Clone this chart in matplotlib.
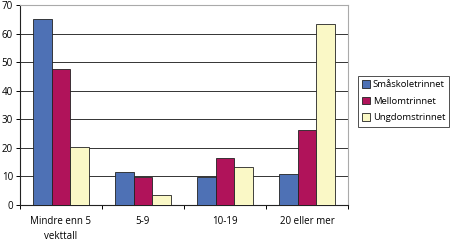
import matplotlib
matplotlib.use("Agg")
import matplotlib.pyplot as plt
import numpy as np

# Data
categories = ["Mindre enn 5\nvekttall", "5-9", "10-19", "20 eller mer"]
series_names = ["Småskoletrinnet", "Mellomtrinnet", "Ungdomstrinnet"]
smaskole = [65, 11.4, 9.9, 10.8]
mellom = [47.5, 9.8, 16.5, 26.4]
ungdom = [20.4, 3.4, 13.3, 63.2]
colors = ["#4E71B5", "#B0135A", "#FAF8C6"]

plt.rcParams["font.family"] = ["Open Sans", "DejaVu Sans"]

fig = plt.figure(figsize=(4.5, 2.41), dpi=100)
ax = fig.add_axes([20 / 450, 1 - 205 / 241, 328 / 450, 200 / 241])

x = np.arange(len(categories))
w = 0.227
for i, (vals, name) in enumerate(zip([smaskole, mellom, ungdom], series_names)):
    ax.bar(x + (i - 1) * w, vals, w, color=colors[i], edgecolor="#222222",
           linewidth=0.6, label=name, zorder=3)

ax.set_xlim(-0.5, len(categories) - 0.5)
ax.set_ylim(0, 70)
ax.set_yticks(range(0, 71, 10))
ax.yaxis.grid(True, color="#333333", linewidth=0.7, zorder=0)

ax.set_xticks(x)
ax.set_xticklabels(categories, fontsize=7, linespacing=1.5)
ax.set_xticks(np.arange(-0.5, len(categories)), minor=True)
ax.tick_params(axis="x", which="major", length=0, pad=8)
ax.tick_params(axis="x", which="minor", length=3, width=0.7, direction="out")
ax.tick_params(axis="y", length=3, width=0.7, labelsize=7, pad=2)

for s in ["left", "bottom"]:
    ax.spines[s].set_color("#222222")
    ax.spines[s].set_linewidth(0.8)
for s in ["top", "right"]:
    ax.spines[s].set_color("#AAAAAA")
    ax.spines[s].set_linewidth(0.8)

leg = fig.legend(loc="upper left", bbox_to_anchor=(358 / 450, 1 - 76 / 241),
                 fontsize=6.8, frameon=True, fancybox=False, handlelength=0.8,
                 handleheight=0.8, handletextpad=0.3, borderpad=0.45,
                 labelspacing=0.8, borderaxespad=0)
leg.get_frame().set_edgecolor("#222222")
leg.get_frame().set_linewidth(0.7)

fig.savefig("out.png", dpi=100)
